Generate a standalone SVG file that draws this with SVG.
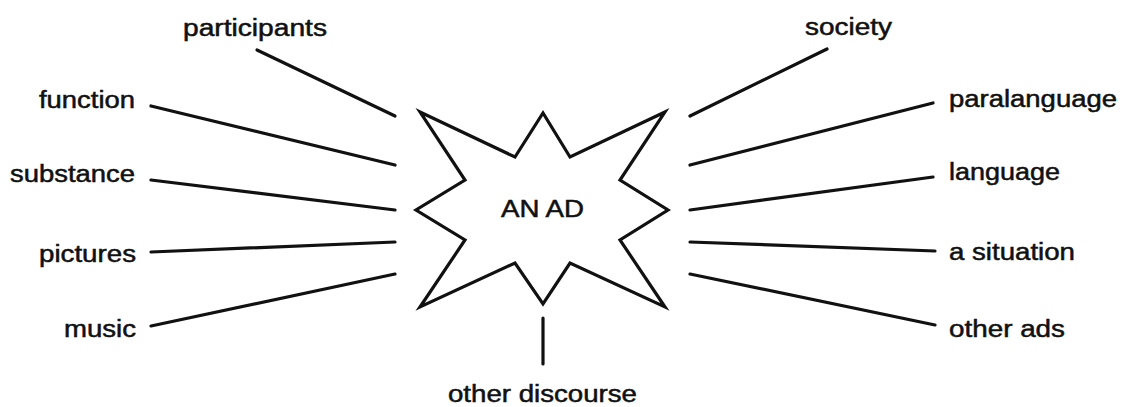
<svg xmlns="http://www.w3.org/2000/svg" width="1121" height="407" viewBox="0 0 1121 407">
<style>
text{font-family:"Liberation Sans",Arial,sans-serif;font-size:23px;fill:#111;stroke:#111;stroke-width:0.5}
.c line{stroke:#111;stroke-width:3.2;stroke-linecap:round}
.star{fill:#fff;stroke:#111;stroke-width:3.2;stroke-linejoin:miter}
</style>
<rect width="1121" height="407" fill="#fff"/>
<g id="center">
<polygon class="star" points="420,112 515,157 543,113 570,157 665,112 620,180 668,210 620,240 665,307 570,263 543,304 515,263 420,307 465,240 416,210 465,180"/>
<text x="501" y="217" textLength="83" lengthAdjust="spacingAndGlyphs">AN AD</text>
</g>
<g class="c" id="connectors">
<line x1="257" y1="50" x2="395" y2="116"/>
<line x1="151" y1="106" x2="395" y2="165"/>
<line x1="151" y1="180" x2="395" y2="210"/>
<line x1="151" y1="252" x2="395" y2="242"/>
<line x1="151" y1="326" x2="395" y2="274"/>
<line x1="827" y1="49" x2="690" y2="116"/>
<line x1="933" y1="103" x2="690" y2="165"/>
<line x1="933" y1="177" x2="690" y2="210"/>
<line x1="935" y1="251" x2="690" y2="242"/>
<line x1="935" y1="325" x2="690" y2="274"/>
<line x1="543" y1="318" x2="543" y2="364"/>
</g>
<g id="participants"><text x="183" y="36" textLength="144" lengthAdjust="spacingAndGlyphs">participants</text></g>
<g id="function"><text x="39" y="108" textLength="96" lengthAdjust="spacingAndGlyphs">function</text></g>
<g id="substance"><text x="10" y="182" textLength="125" lengthAdjust="spacingAndGlyphs">substance</text></g>
<g id="pictures"><text x="39" y="262" textLength="97" lengthAdjust="spacingAndGlyphs">pictures</text></g>
<g id="music"><text x="64" y="337" textLength="72" lengthAdjust="spacingAndGlyphs">music</text></g>
<g id="society"><text x="805" y="35" textLength="87" lengthAdjust="spacingAndGlyphs">society</text></g>
<g id="paralanguage"><text x="949" y="107" textLength="168" lengthAdjust="spacingAndGlyphs">paralanguage</text></g>
<g id="language"><text x="949" y="180" textLength="111" lengthAdjust="spacingAndGlyphs">language</text></g>
<g id="a-situation"><text x="949" y="260" textLength="126" lengthAdjust="spacingAndGlyphs">a situation</text></g>
<g id="other-ads"><text x="949" y="337" textLength="116" lengthAdjust="spacingAndGlyphs">other ads</text></g>
<g id="other-discourse"><text x="448" y="402" textLength="189" lengthAdjust="spacingAndGlyphs">other discourse</text></g>
</svg>
